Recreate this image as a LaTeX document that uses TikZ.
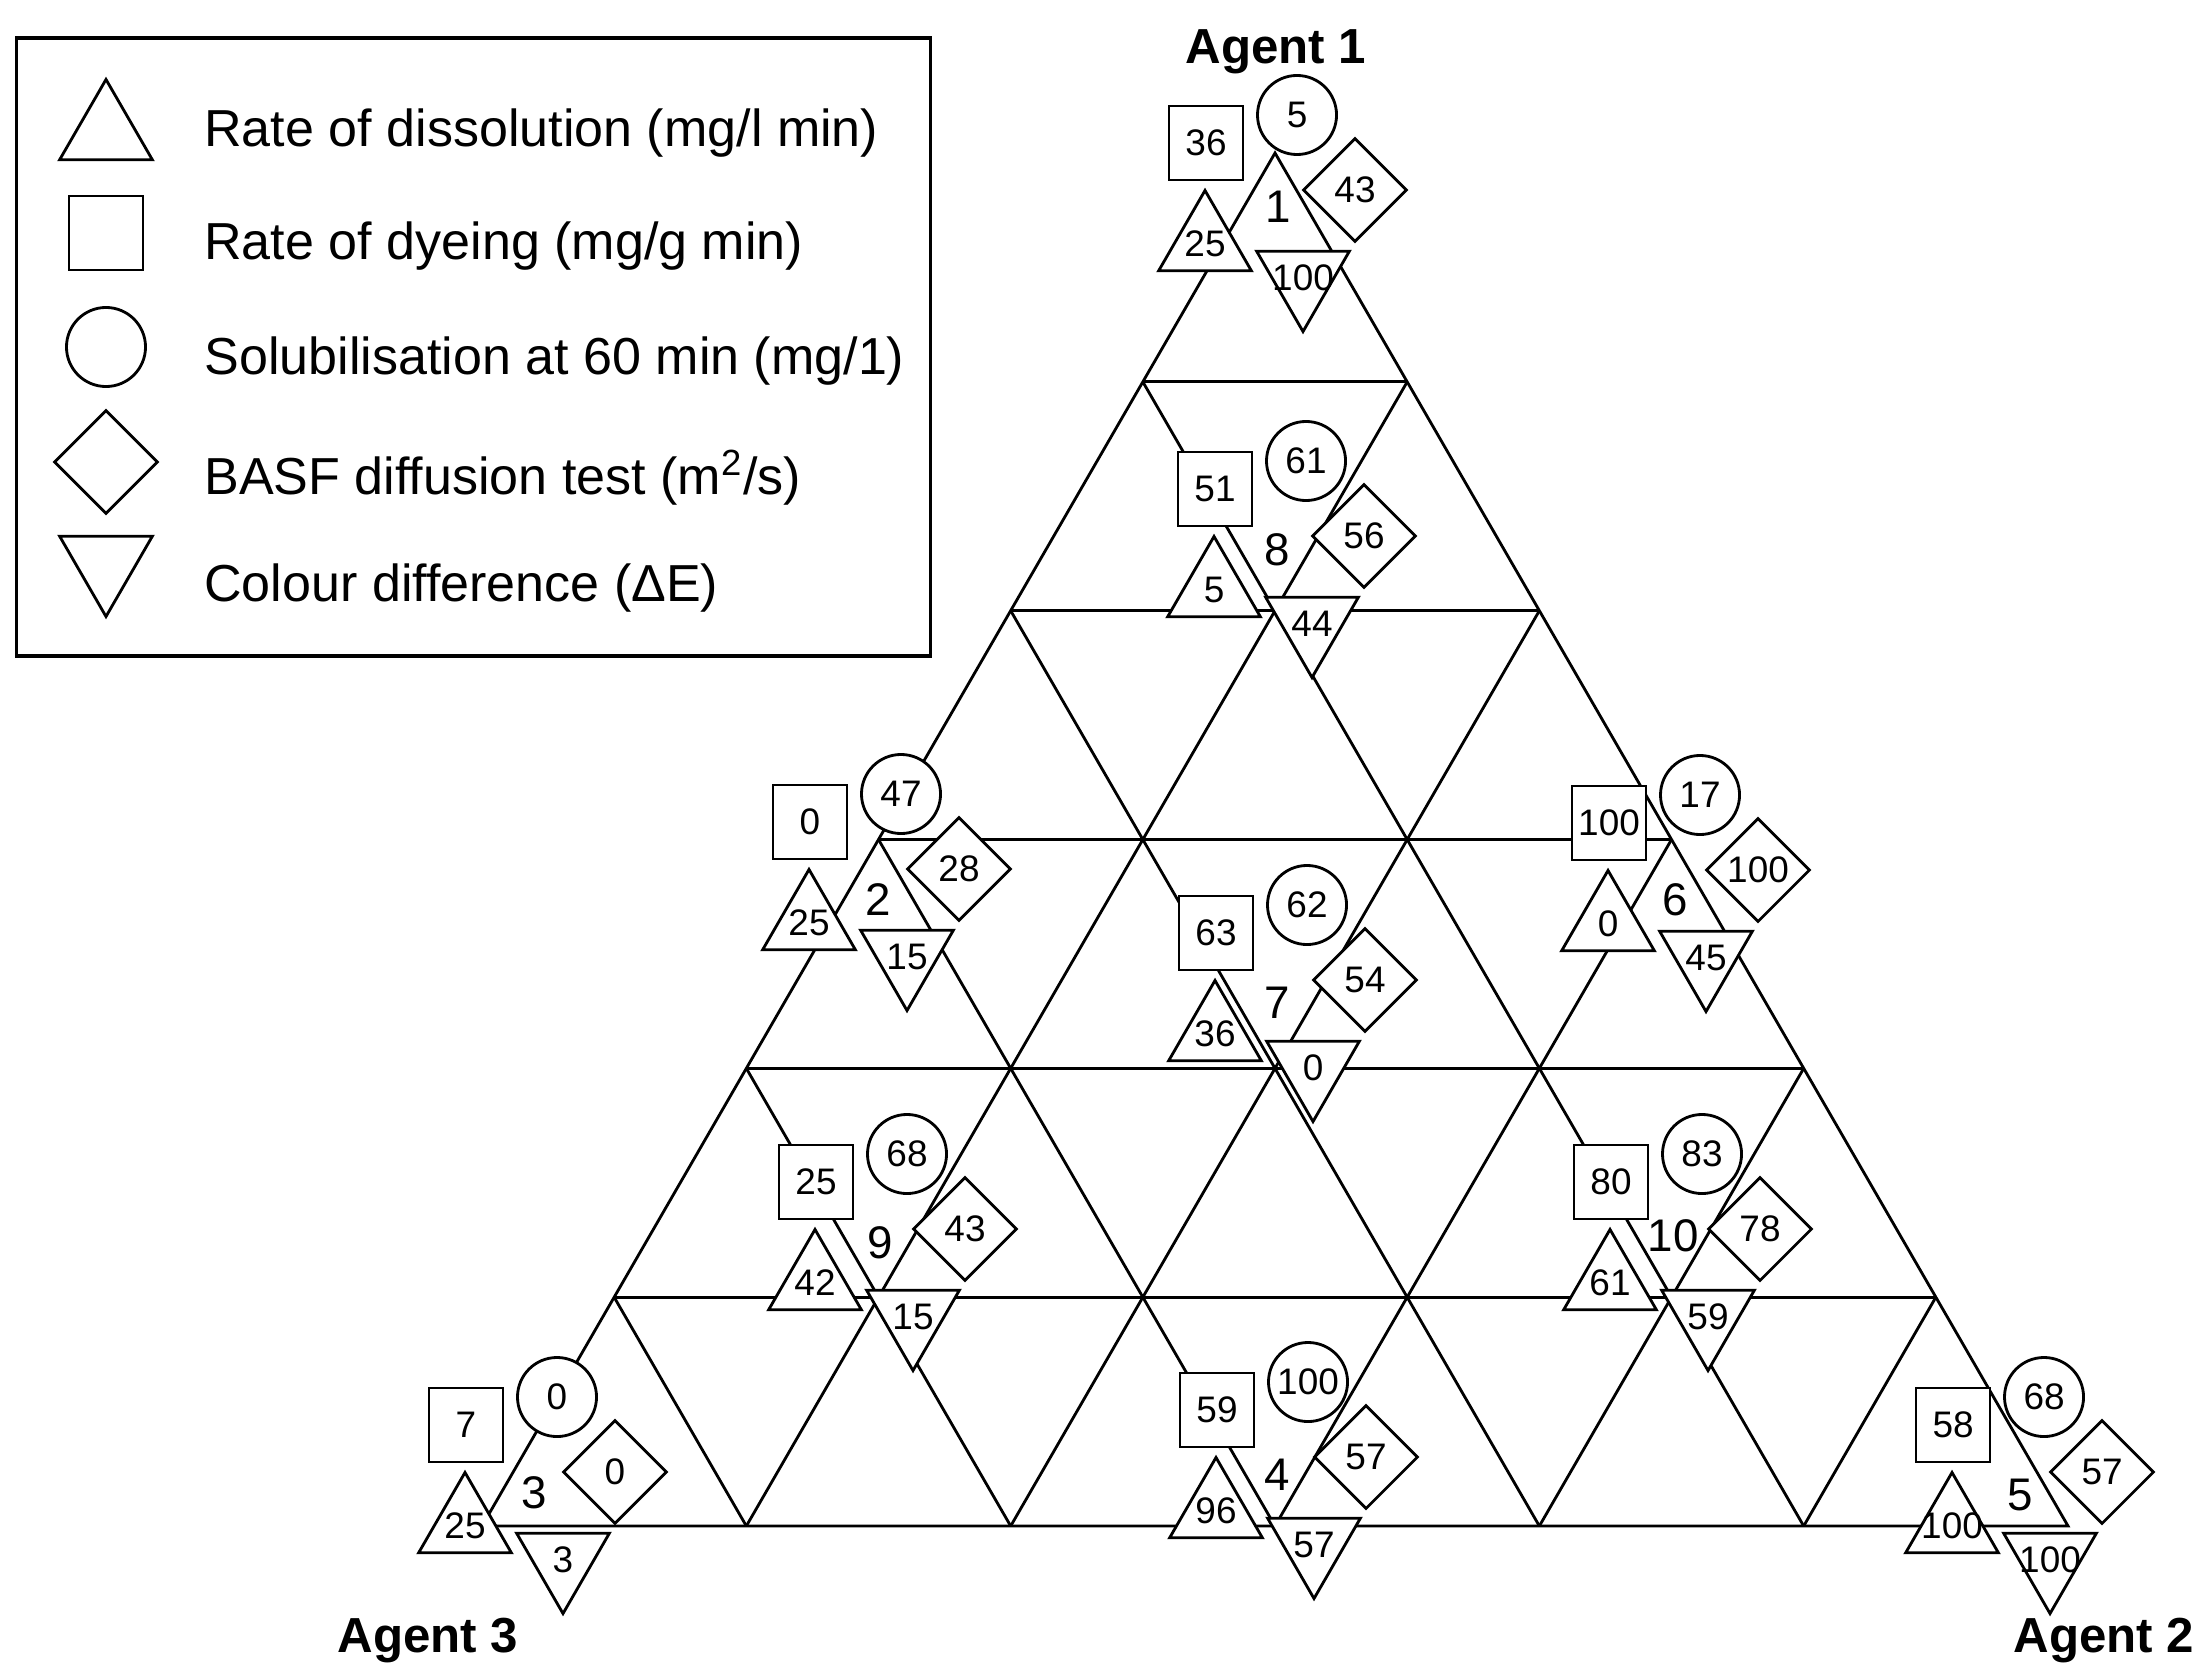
\documentclass[tikz,border=0pt]{standalone}
\usepackage{fontspec}
\setmainfont{Liberation Sans}
\usetikzlibrary{shapes.geometric,calc}
\newcommand{\val}[1]{\makebox[0pt]{#1}}

\begin{document}
\begin{tikzpicture}[x=0.01cm, y=-0.01cm, line width=0.8pt,
        symb/.style={draw, fill=white, inner sep=0pt, font=\fontsize{10.5}{12}\selectfont},
        sqr/.style={symb, rectangle, minimum size=0.74cm},
        circ/.style={symb, circle, minimum size=0.79cm},
        dmd/.style={symb, diamond, aspect=1, minimum width=1.04cm, minimum height=1.04cm},
        tup/.style={symb, regular polygon, regular polygon sides=3, minimum size=1.07cm},
        tdn/.style={tup, shape border rotate=180},
        ptlbl/.style={inner sep=0pt, font=\fontsize{13}{15}\selectfont},
        lgdtxt/.style={anchor=base west, inner sep=0pt, font=\fontsize{14.8}{17}\selectfont},
        agent/.style={anchor=base, inner sep=0pt, font=\fontsize{14}{16}\selectfont\bfseries}
    ]
    \useasboundingbox (0,0) rectangle (2204,1667);

    % legend
    \node[draw, line width=1pt, minimum width=9.13cm, minimum height=6.18cm, inner sep=0pt] (lgd) at (473.5,347) {};
    \node[tup] (ltu) at (106,133) {};
    \node[sqr] (lsq) at (106,233) {};
    \node[circ] (lci) at (106,347) {};
    \node[dmd] (ldi) at (106,462) {};
    \node[tdn] (ltd) at (106,563) {};
    \node[lgdtxt] (lt1) at (203,147) {Rate of dissolution (mg/l min)};
    \node[lgdtxt] (lt2) at (203,260) {Rate of dyeing (mg/g min)};
    \node[lgdtxt] (lt3) at (203,374) {Solubilisation at 60 min (mg/1)};
    \node[lgdtxt] (lt4) at (203,494) {BASF diffusion test (m\textsuperscript{2}/s)};
    \node[lgdtxt] (lt5) at (203,601) {Colour difference (ΔE)};

    % ternary grid
    \coordinate (a1) at (1275,153);
    \coordinate (a3) at (482,1526);
    \coordinate (a2) at (2068,1526);
    \draw (a1) -- (a3) -- (a2) -- cycle;
    \foreach \i in {1,...,5} {
        \draw ($(a1)!\i/6!(a3)$) -- ($(a1)!\i/6!(a2)$);
        \draw ($(a3)!\i/6!(a1)$) -- ($(a3)!\i/6!(a2)$);
        \draw ($(a2)!\i/6!(a1)$) -- ($(a2)!\i/6!(a3)$);
    }

    \node[agent] (ag1) at (1276,64) {Agent 1};
    \node[agent] (ag3) at (428,1652) {Agent 3};
    \node[agent] (ag2) at (2104,1652) {Agent 2};

    % sample points
    \foreach \n/\x/\y/\lx/\ly/\vt/\vs/\vc/\vd/\vi in {
        1/1273/194/1278/207/25/36/5/43/100,
        2/877/873/878/900/25/0/47/28/15,
        3/533/1476/534/1493/25/7/0/0/3,
        4/1284/1461/1277/1475/96/59/100/57/57,
        5/2020/1476/2020/1495/100/58/68/57/100,
        6/1676/874/1675/900/0/100/17/100/45,
        7/1283/984/1277/1003/36/63/62/54/0,
        8/1282/540/1277/550/5/51/61/56/44,
        9/883/1233/880/1243/42/25/68/43/15,
        10/1678/1233/1673/1236/61/80/83/78/59} {
        \node[sqr] (sq\n) at (\x-67,\y-51) {\vs};
        \node[circ] (ci\n) at (\x+24,\y-79) {\vc};
        \node[dmd] (di\n) at (\x+82,\y-4) {\vd};
        \node[tup] (tu\n) at (\x-68,\y+50) {\val{\vt}};
        \node[tdn] (td\n) at (\x+30,\y+84) {\val{\vi}};
        \node[ptlbl] (p\n) at (\lx,\ly) {\n};
    }
\end{tikzpicture}
\end{document}
